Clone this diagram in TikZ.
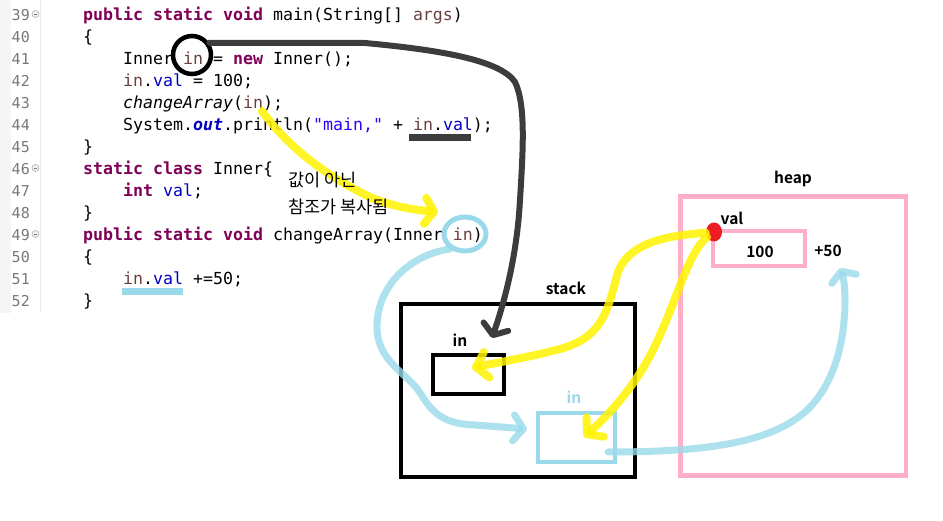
\documentclass[tikz,border=0pt]{standalone}
\usepackage{fontspec}
\usetikzlibrary{arrows.meta, shapes.geometric}

\newfontfamily\codefont{DejaVu Sans Mono}
\newfontfamily\hanfont{Noto Sans CJK KR}[BoldFont={Noto Sans CJK KR Bold}]

\definecolor{kwcolor}{HTML}{7F0055}
\definecolor{varcolor}{HTML}{6A3E3E}
\definecolor{fieldcolor}{HTML}{0000C0}
\definecolor{strcolor}{HTML}{2A00FF}
\definecolor{numcolor}{HTML}{787878}
\definecolor{penyellow}{HTML}{FFF200}
\definecolor{penblue}{HTML}{99D9EA}
\definecolor{penpink}{HTML}{FFAEC9}
\definecolor{penred}{HTML}{ED1C24}
\definecolor{pendark}{HTML}{3C3C3C}

\newcommand{\javakw}[1]{\textcolor{kwcolor}{\bfseries #1}}
\newcommand{\javavar}[1]{\textcolor{varcolor}{#1}}
\newcommand{\javafield}[1]{\textcolor{fieldcolor}{#1}}

\begin{document}
\begin{tikzpicture}[x=1pt, y=-1pt,
	codeline/.style={anchor=base west, inner sep=0pt, font=\codefont\fontsize{16.6}{20}\selectfont},
	lineno/.style={anchor=base east, inner sep=0pt, text=numcolor, font=\codefont\fontsize{15}{18}\selectfont},
	foldmark/.style={circle, draw=numcolor!60, fill=gray!10, minimum size=7pt, inner sep=0pt, line width=0.6pt,
		path picture={\draw[numcolor, line width=0.8pt] ([xshift=1.6pt]path picture bounding box.west) -- ([xshift=-1.6pt]path picture bounding box.east);}},
	note/.style={anchor=base west, inner sep=0pt, font=\hanfont\fontsize{17.5}{20}\selectfont},
	boxlabel/.style={anchor=base, inner sep=0pt, font=\hanfont\bfseries\fontsize{15.5}{18}\selectfont},
	membox/.style={rectangle, draw, inner sep=0pt},
	pen/.style={line cap=round, line join=round},
	barb/.style={-{Straight Barb[round, length=#1, width=26pt]}},
	darkpen/.style={pen, draw=pendark, line width=6pt},
	yellowpen/.style={pen, draw=penyellow, line width=8pt, draw opacity=0.85},
	bluepen/.style={pen, draw=penblue, line width=7pt, draw opacity=0.8}]
	\useasboundingbox (0, 0) rectangle (943, 521);

	%	editor gutter
	\fill[gray!8] (0, 0) rectangle (11, 313);
	\draw[gray!15, line width=1pt] (40, 0) -- (40, 313);

	\def\indA{83}
	\def\indB{123}

	%	line numbers
	\foreach \n in {39,...,52}
		\node[lineno] (n\n) at (30, {20.5 + 22*(\n - 39)}) {\n};
	\foreach \n in {39, 46, 49}
		\node[foldmark] (f\n) at (35.5, {14 + 22*(\n - 39)}) {};

	%	code
	\node[codeline] (l39) at (\indA, 20.5) {\javakw{public static void} main(String[] \javavar{args})};
	\node[codeline] (l40) at (\indA, 42.5) {\{};
	\node[codeline] (l41) at (\indB, 64.5) {Inner \javavar{in} = \javakw{new} Inner();};
	\node[codeline] (l42) at (\indB, 86.5) {\javavar{in}.\javafield{val} = 100;};
	\node[codeline] (l43) at (\indB, 108.5) {\textit{changeArray}(\javavar{in});};
	\node[codeline] (l44) at (\indB, 130.5) {System.\textcolor{fieldcolor}{\bfseries\itshape out}.println(\textcolor{strcolor}{"main,"} + \javavar{in}.\javafield{val});};
	\node[codeline] (l45) at (\indA, 152.5) {\}};
	\node[codeline] (l46) at (\indA, 174.5) {\javakw{static class} Inner\{};
	\node[codeline] (l47) at (\indB, 196.5) {\javakw{int} \javafield{val};};
	\node[codeline] (l48) at (\indA, 218.5) {\}};
	\node[codeline] (l49) at (\indA, 240.5) {\javakw{public static void} changeArray(Inner \javavar{in})};
	\node[codeline] (l50) at (\indA, 262.5) {\{};
	\node[codeline] (l51) at (\indB, 284.5) {\javavar{in}.\javafield{val} +=50;};
	\node[codeline] (l52) at (\indA, 306.5) {\}};

	%	stack
	\node[membox, line width=4pt, minimum width=234pt, minimum height=173pt] (stack) at (518, 390.5) {};
	\node[boxlabel] (stacklabel) at (566, 295) {stack};
	\node[membox, line width=4pt, minimum width=71pt, minimum height=39pt] (inmain) at (468.5, 374.5) {};
	\node[boxlabel] (inmainlabel) at (460, 347) {in};
	\node[membox, draw=penblue, line width=4pt, minimum width=77pt, minimum height=49pt] (inchange) at (576.5, 437.5) {};
	\node[boxlabel, text=penblue] (inchangelabel) at (574, 403) {in};

	%	heap
	\node[membox, draw=penpink, line width=4.5pt, minimum width=225.5pt, minimum height=279pt] (heap) at (793.25, 336) {};
	\node[boxlabel] (heaplabel) at (793, 183.5) {heap};
	\node[membox, draw=penpink, line width=4pt, minimum width=92pt, minimum height=35pt] (valbox) at (759, 248.5) {};
	\node[boxlabel] (hundred) at (760, 258) {100};
	\node[boxlabel] (valname) at (732, 225) {val};
	\node[boxlabel] (plusfifty) at (828, 257) {+50};
	\node[ellipse, fill=penred, inner sep=0pt, minimum width=16pt, minimum height=19pt] (dot) at (714, 232) {};

	%	marks in the code
	\node[circle, draw=black, line width=4.5pt, minimum size=38pt, inner sep=0pt] (c41) at (192, 55) {};
	\node[ellipse, draw=penblue, line width=5pt, minimum width=42pt, minimum height=34pt, inner sep=0pt] (c49) at (465, 234) {};
	\draw[pendark, line width=7pt] (409, 138) -- (471, 138);
	\draw[penblue, line width=7pt] (122, 292) -- (183, 292);

	%	arrow ends
	\coordinate (in43) at (262, 111);
	\coordinate (tipA) at (492, 338);
	\coordinate (tipB) at (438, 212);
	\coordinate (tipC) at (472, 368);
	\coordinate (tipD) at (584, 437);
	\coordinate (tipE) at (527, 429);
	\coordinate (tailF) at (608, 452);
	\coordinate (tipF) at (840, 268);

	%	reference copied to the stack
	\draw[darkpen, barb=9pt] (c41.35) -- (365, 43) .. controls (440, 50) and (500, 60) .. (515, 82)
		.. controls (526, 105) and (523, 150) .. (520, 200) .. controls (517, 255) and (505, 300) .. (tipA);

	%	yellow
	\draw[yellowpen, barb=9pt] (in43) .. controls (290, 150) and (330, 178) .. (372, 198)
		.. controls (395, 207) and (415, 210) .. (tipB);
	\draw[yellowpen, barb=11pt] (dot) .. controls (680, 235) and (628, 238) .. (617, 275)
		.. controls (607, 315) and (600, 338) .. (560, 349) .. controls (530, 357) and (495, 363) .. (tipC);
	\draw[yellowpen, barb=11pt] (dot) .. controls (690, 250) and (678, 295) .. (660, 335)
		.. controls (642, 378) and (612, 412) .. (tipD);

	%	note
	\node[note] (note1) at (288, 186.5) {값이 아닌};
	\node[note] (note2) at (288, 214) {참조가 복사됨};

	%	blue
	\draw[bluepen, barb=10pt] (c49.225) .. controls (410, 255) and (378, 285) .. (377, 325)
		.. controls (376, 360) and (405, 372) .. (418, 390) .. controls (430, 408) and (438, 424) .. (475, 425) -- (tipE);
	\draw[bluepen, barb=8pt] (tailF) .. controls (710, 452) and (770, 442) .. (805, 412)
		.. controls (835, 385) and (845, 340) .. (845, 300) .. controls (845, 285) and (843, 276) .. (tipF);
\end{tikzpicture}
\end{document}
